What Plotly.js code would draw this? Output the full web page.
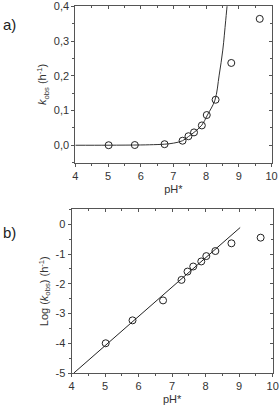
<!DOCTYPE html>
<html>
<head>
<meta charset="utf-8">
<script src="https://cdn.plot.ly/plotly-3.0.1.min.js"></script>
<style>
html,body{margin:0;padding:0;background:#fff;}
#chart{width:280px;height:406px;}
</style>
</head>
<body>
<div id="chart"></div>
<script>
// Measured data
var pH = [5.02, 5.82, 6.73, 7.28, 7.46, 7.63, 7.87, 8.02, 8.29, 8.77, 9.64];
var kobs = [0.0001, 0.0006, 0.003, 0.013, 0.026, 0.037, 0.057, 0.087, 0.131, 0.237, 0.364];
var logK = [-4.00, -3.23, -2.56, -1.87, -1.59, -1.42, -1.25, -1.07, -0.90, -0.64, -0.45];

// Fitted curve (panel a)
var curvePH = [4.0, 5.0, 6.0, 6.5, 6.73, 7.0, 7.28, 7.46, 7.63, 7.87, 8.04, 8.27, 8.40, 8.51, 8.60, 8.67];
var curveK = [0.0, 0.0001, 0.0008, 0.002, 0.003, 0.006, 0.013, 0.025, 0.037, 0.058, 0.087, 0.130, 0.202, 0.274, 0.360, 0.43];

// Fitted line (panel b)
var fitPH = [4.07, 9.03];
var fitLog = [-5.0, -0.11];

// Tick labels
var xTickVals = [4, 5, 6, 7, 8, 9, 10];
var xTickText = ['4', '5', '6', '7', '8', '9', '10'];
var aTickVals = [0.0, 0.1, 0.2, 0.3, 0.4];
var aTickText = ['0,0', '0,1', '0,2', '0,3', '0,4'];
var bTickVals = [0, -1, -2, -3, -4, -5];
var bTickText = ['0', '-1', '-2', '-3', '-4', '-5'];

var lineCol = '#555';
var txtCol = '#333';
var fnt = {family: 'Liberation Sans, Arial, sans-serif', size: 11, color: txtCol};

var marker = {symbol: 'circle-open', size: 7, color: '#222', line: {width: 1, color: '#222'}};

var traces = [
  {x: curvePH, y: curveK, xaxis: 'x', yaxis: 'y', mode: 'lines', line: {color: '#333', width: 1, shape: 'spline'}, hoverinfo: 'skip'},
  {x: pH, y: kobs, xaxis: 'x', yaxis: 'y', mode: 'markers', marker: marker},
  {x: fitPH, y: fitLog, xaxis: 'x2', yaxis: 'y2', mode: 'lines', line: {color: '#222', width: 1}},
  {x: pH, y: logK, xaxis: 'x2', yaxis: 'y2', mode: 'markers', marker: marker}
];

function xMain(dom, anchor, r) {
  return {domain: dom, anchor: anchor, range: r, tickmode: 'array', tickvals: xTickVals, ticktext: xTickText,
    ticks: 'outside', ticklen: 3, tickwidth: 1, tickcolor: lineCol, showline: true, linecolor: lineCol, linewidth: 1,
    mirror: true, showgrid: false, zeroline: false, tickfont: fnt, ticklabeloverflow: 'allow',
    minor: {tickmode: 'linear', tick0: 4, dtick: 0.5, ticks: 'outside', ticklen: 2, tickcolor: lineCol},
    title: {text: 'pH*', font: fnt, standoff: 4}};
}
function xMirror(ov, anchor, r) {
  return {overlaying: ov, anchor: anchor, side: 'top', range: r, tickmode: 'array', tickvals: xTickVals,
    ticks: 'inside', ticklen: 3, tickcolor: lineCol, showticklabels: false, showline: false, showgrid: false, zeroline: false,
    minor: {tickmode: 'linear', tick0: 4, dtick: 0.5, ticks: 'inside', ticklen: 2, tickcolor: lineCol}};
}
function yMain(dom, anchor, r, tv, tt, mdt, title) {
  return {domain: dom, anchor: anchor, range: r, tickmode: 'array', tickvals: tv, ticktext: tt,
    ticks: 'outside', ticklen: 3, tickwidth: 1, tickcolor: lineCol, showline: true, linecolor: lineCol, linewidth: 1,
    mirror: true, showgrid: false, zeroline: false, tickfont: fnt, ticklabeloverflow: 'allow',
    minor: {tickmode: 'linear', tick0: 0, dtick: mdt, ticks: 'outside', ticklen: 2, tickcolor: lineCol},
    title: {text: title, font: fnt, standoff: 4}};
}
function yMirror(ov, anchor, r, tv, mdt) {
  return {overlaying: ov, anchor: anchor, side: 'right', range: r, tickmode: 'array', tickvals: tv,
    ticks: 'inside', ticklen: 3, tickcolor: lineCol, showticklabels: false, showline: false, showgrid: false, zeroline: false,
    minor: {tickmode: 'linear', tick0: 0, dtick: mdt, ticks: 'inside', ticklen: 2, tickcolor: lineCol}};
}

var H = 406, W = 280;
var aX = [75.3 / W, 271.5 / W], aY = [1 - 162.6 / H, 1 - 6.2 / H];
var bX = [71.5 / W, 272.7 / W], bY = [1 - 373 / H, 1 - 209.4 / H];
var rX = [4, 10], rA = [-0.05, 0.4005], rB = [-5, 0.5];

var layout = {
  width: W, height: H,
  margin: {l: 0, r: 0, t: 0, b: 0},
  paper_bgcolor: '#fff', plot_bgcolor: '#fff',
  showlegend: false,
  separators: ',.',
  font: fnt,
  xaxis: xMain(aX, 'y', rX),
  yaxis: yMain(aY, 'x', rA, aTickVals, aTickText, 0.05, '<i>k</i><sub>obs</sub> (h<sup>-1</sup>)'),
  xaxis2: xMain(bX, 'y2', rX),
  yaxis2: yMain(bY, 'x2', rB, bTickVals, bTickText, 0.5, 'Log (<i>k</i><sub>obs</sub>) (h<sup>-1</sup>)'),
  xaxis3: xMirror('x', 'y', rX),
  yaxis3: yMirror('y', 'x', rA, aTickVals, 0.05),
  xaxis4: xMirror('x2', 'y2', rX),
  yaxis4: yMirror('y2', 'x2', rB, bTickVals, 0.5),
  annotations: [
    {text: 'a)', xref: 'paper', yref: 'paper', x: 1 / W, y: 1 - 24 / H, xanchor: 'left', yanchor: 'middle', showarrow: false,
      font: {family: 'Liberation Sans, Arial, sans-serif', size: 15, color: '#222'}},
    {text: 'b)', xref: 'paper', yref: 'paper', x: 1 / W, y: 1 - 232 / H, xanchor: 'left', yanchor: 'middle', showarrow: false,
      font: {family: 'Liberation Sans, Arial, sans-serif', size: 15, color: '#222'}}
  ]
};

// invisible traces so the mirror axes are drawn
traces.push({x: [4], y: [0], xaxis: 'x3', yaxis: 'y3', mode: 'markers', marker: {opacity: 0}, hoverinfo: 'skip'});
traces.push({x: [4], y: [0], xaxis: 'x4', yaxis: 'y4', mode: 'markers', marker: {opacity: 0}, hoverinfo: 'skip'});

Plotly.newPlot('chart', traces, layout, {staticPlot: true, displayModeBar: false});
</script>
</body>
</html>
